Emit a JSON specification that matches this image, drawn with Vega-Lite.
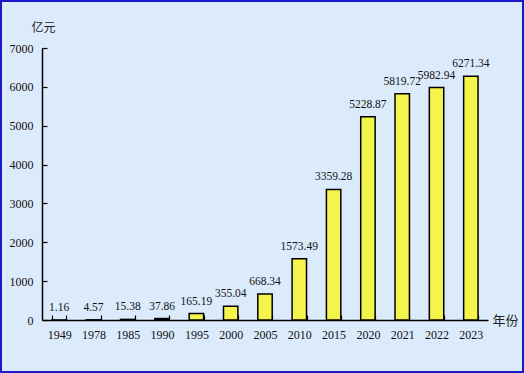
{
  "$schema": "https://vega.github.io/schema/vega-lite/v6.json",
  "width": 524,
  "height": 373,
  "autosize": "none",
  "padding": 0,
  "background": "#dcebfb",
  "view": {"stroke": "#1818c8", "strokeWidth": 4, "fill": "#dcebfb"},
  "config": {"font": "'Liberation Serif', 'Times New Roman', serif"},
  "data": {"values": [
    {"year": "1949", "v": 1.16},
    {"year": "1978", "v": 4.57},
    {"year": "1985", "v": 15.38},
    {"year": "1990", "v": 37.86},
    {"year": "1995", "v": 165.19},
    {"year": "2000", "v": 355.04},
    {"year": "2005", "v": 668.34},
    {"year": "2010", "v": 1573.49},
    {"year": "2015", "v": 3359.28},
    {"year": "2020", "v": 5228.87},
    {"year": "2021", "v": 5819.72},
    {"year": "2022", "v": 5982.94},
    {"year": "2023", "v": 6271.34}
  ]},
  "encoding": {
    "x": {"field": "year", "type": "nominal", "sort": null,
      "scale": {"range": [42, 488], "paddingInner": 0.58, "paddingOuter": 0.29},
      "axis": {"title": "年份", "titleFont": "Noto Sans CJK SC", "titleFontWeight": "normal", "titleFontSize": 13, "titleColor": "#222",
        "titleX": 505, "titleY": 0, "titleAlign": "center", "titleBaseline": "middle", "titleAngle": 0,
        "offset": -53, "labelAngle": 0, "labelFont": "'Liberation Serif', 'Times New Roman', serif", "labelFontSize": 12, "labelColor": "#111", "labelPadding": 14,
        "tickSize": -5, "tickColor": "#000", "domainColor": "#000", "domainWidth": 1.5, "tickWidth": 1.2, "tickBand": "extent"}},
    "y": {"field": "v", "type": "quantitative",
      "scale": {"domain": [0, 7000], "range": [320, 48], "nice": false},
      "axis": {"title": "亿元", "titleFont": "Noto Sans CJK SC", "titleFontWeight": "normal", "titleFontSize": 12, "titleColor": "#222",
        "titleX": 1, "titleY": 27, "titleAlign": "center", "titleBaseline": "middle", "titleAngle": 0,
        "offset": -42, "values": [0, 1000, 2000, 3000, 4000, 5000, 6000, 7000], "format": "d", "grid": false,
        "labelFont": "'Liberation Serif', 'Times New Roman', serif", "labelFontSize": 12, "labelColor": "#111", "labelPadding": 14,
        "tickSize": -5, "tickColor": "#000", "domainColor": "#000", "domainWidth": 1.5, "tickWidth": 1.2}}
  },
  "layer": [
    {"mark": {"type": "bar", "fill": "#f4f44c", "stroke": "#000", "strokeWidth": 1.5}},
    {"mark": {"type": "text", "baseline": "bottom", "dy": -7, "font": "'Liberation Serif', 'Times New Roman', serif", "fontSize": 11.5, "color": "#111"},
      "encoding": {"text": {"field": "v", "type": "quantitative", "format": ".2f"}}}
  ]
}
